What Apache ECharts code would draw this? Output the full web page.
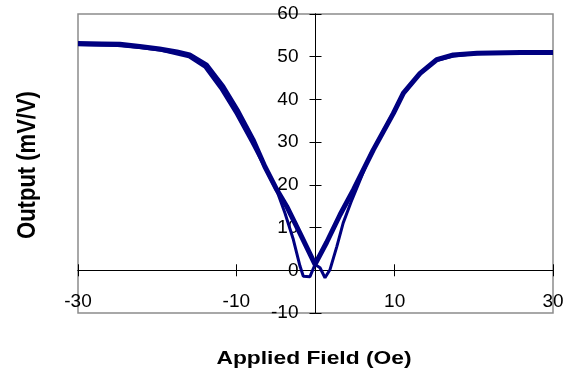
<!DOCTYPE html>
<html>
<head>
<meta charset="utf-8">
<script src="https://cdn.jsdelivr.net/npm/echarts@6/dist/echarts.min.js"></script>
<style>
  html, body { margin: 0; padding: 0; background: #fff; }
  #chart { width: 568px; height: 376px; }
</style>
</head>
<body>
<div id="chart"></div>
<script>
// sweep 1 (the V through the crossing point)
const field1 = [-30, -27, -24.7, -22.2, -19.7, -17.5, -15.9, -13.8, -11.7, -9.8, -7.9, -6.4, -4.9, -3.65, -2, -0.06, 1.4, 3.1, 4.8, 7.3, 9.85, 11.1, 13.2, 15.3, 17.4, 20.4, 25.9, 30];
const output1 = [53.1, 53.0, 52.9, 52.4, 51.8, 51.1, 50.4, 48.1, 43.0, 37.2, 30.6, 24.3, 18.9, 15.0, 8.8, 1.4, 6.5, 13.0, 18.9, 28.2, 36.8, 41.5, 46.1, 49.3, 50.4, 50.8, 51.0, 51.0];

// sweep 2 (the W with the two dips)
const field2 = [-30, -25, -22, -19.5, -16, -14, -12, -10, -8, -6.2, -4.8, -3.86, -2.8, -1.96, -1.54, -0.7, -0.06, 0.57, 1.2, 1.84, 2.7, 3.5, 4.6, 7, 9.6, 11, 13, 15, 17.2, 20, 25, 30];
const output2 = [52.8, 52.6, 52.1, 51.5, 50.0, 47.6, 42.6, 36.6, 29.8, 23.4, 18.2, 13.4, 7.2, 1.0, -1.4, -1.5, 1.35, 0.6, -1.75, 0.2, 5.6, 11.1, 16.5, 27.3, 36.2, 41.0, 45.6, 48.9, 50.1, 50.7, 51.0, 51.1];

const xTicks = [-30, -10, 10, 30];
const yTicks = [-10, 0, 10, 20, 30, 40, 50, 60];

const font = "'Liberation Sans', Arial, sans-serif";
const navy = "#000080";

const gridLeft = 78, gridRight = 15, gridTop = 14, gridBottom = 63;
const W = 568, H = 376;

const chart = echarts.init(document.getElementById("chart"));

function pairs(xs, ys) {
  return xs.map((x, i) => [x, ys[i]]);
}

// axes cross at zero; shift them there with offset (plot size is fixed)
const plotW = W - gridLeft - gridRight;
const plotH = H - gridTop - gridBottom;
const xAxisShift = -plotH * (0 - yTicks[0]) / (yTicks[yTicks.length - 1] - yTicks[0]);
const yAxisShift = -plotW * (0 - xTicks[0]) / (xTicks[xTicks.length - 1] - xTicks[0]);

// ticks cross the axis: one axis draws them outside, a twin draws them inside
function xAxisFor(inside) {
  return {
    type: "value",
    position: "bottom",
    offset: xAxisShift,
    min: xTicks[0],
    max: xTicks[xTicks.length - 1],
    interval: xTicks[1] - xTicks[0],
    splitLine: { show: false },
    axisLine: { onZero: false, lineStyle: { color: "#000", width: 1 } },
    axisTick: { show: true, inside: inside, length: 6, lineStyle: { color: "#000" } },
    axisLabel: inside ? { show: false } : { margin: 22, color: "#000", fontSize: 19, fontFamily: font },
  };
}
function yAxisFor(inside) {
  return {
    type: "value",
    position: "left",
    offset: yAxisShift,
    min: yTicks[0],
    max: yTicks[yTicks.length - 1],
    interval: yTicks[1] - yTicks[0],
    splitLine: { show: false },
    axisLine: { onZero: false, lineStyle: { color: "#000", width: 1 } },
    axisTick: { show: true, inside: inside, length: 6, lineStyle: { color: "#000" } },
    axisLabel: inside ? { show: false } : { margin: 17, color: "#000", fontSize: 19, fontFamily: font },
  };
}

const option = {
  animation: false,
  grid: {
    left: gridLeft, right: gridRight, top: gridTop, bottom: gridBottom,
    show: true, borderColor: "#8c8c8c", borderWidth: 1.5,
  },
  xAxis: [xAxisFor(false), xAxisFor(true)],
  yAxis: [yAxisFor(false), yAxisFor(true)],
  graphic: [
    {
      type: "text", x: 314, y: 359, scaleX: 1.2,
      style: { text: "Applied Field (Oe)", font: "bold 19px " + font, fill: "#000", align: "center", verticalAlign: "middle" },
    },
    {
      type: "text", x: 28, y: 165, rotation: Math.PI / 2, scaleY: 1.15,
      style: { text: "Output (mV/V)", font: "bold 22px " + font, fill: "#000", align: "center", verticalAlign: "middle" },
    },
  ],
  series: [
    {
      name: "Sweep 1", type: "line", data: pairs(field1, output1),
      showSymbol: false, lineStyle: { color: navy, width: 5 }, itemStyle: { color: navy },
    },
    {
      name: "Sweep 2", type: "line", data: pairs(field2, output2),
      showSymbol: false, lineStyle: { color: navy, width: 3 }, itemStyle: { color: navy },
    },
  ],
};

chart.setOption(option);
</script>
</body>
</html>
